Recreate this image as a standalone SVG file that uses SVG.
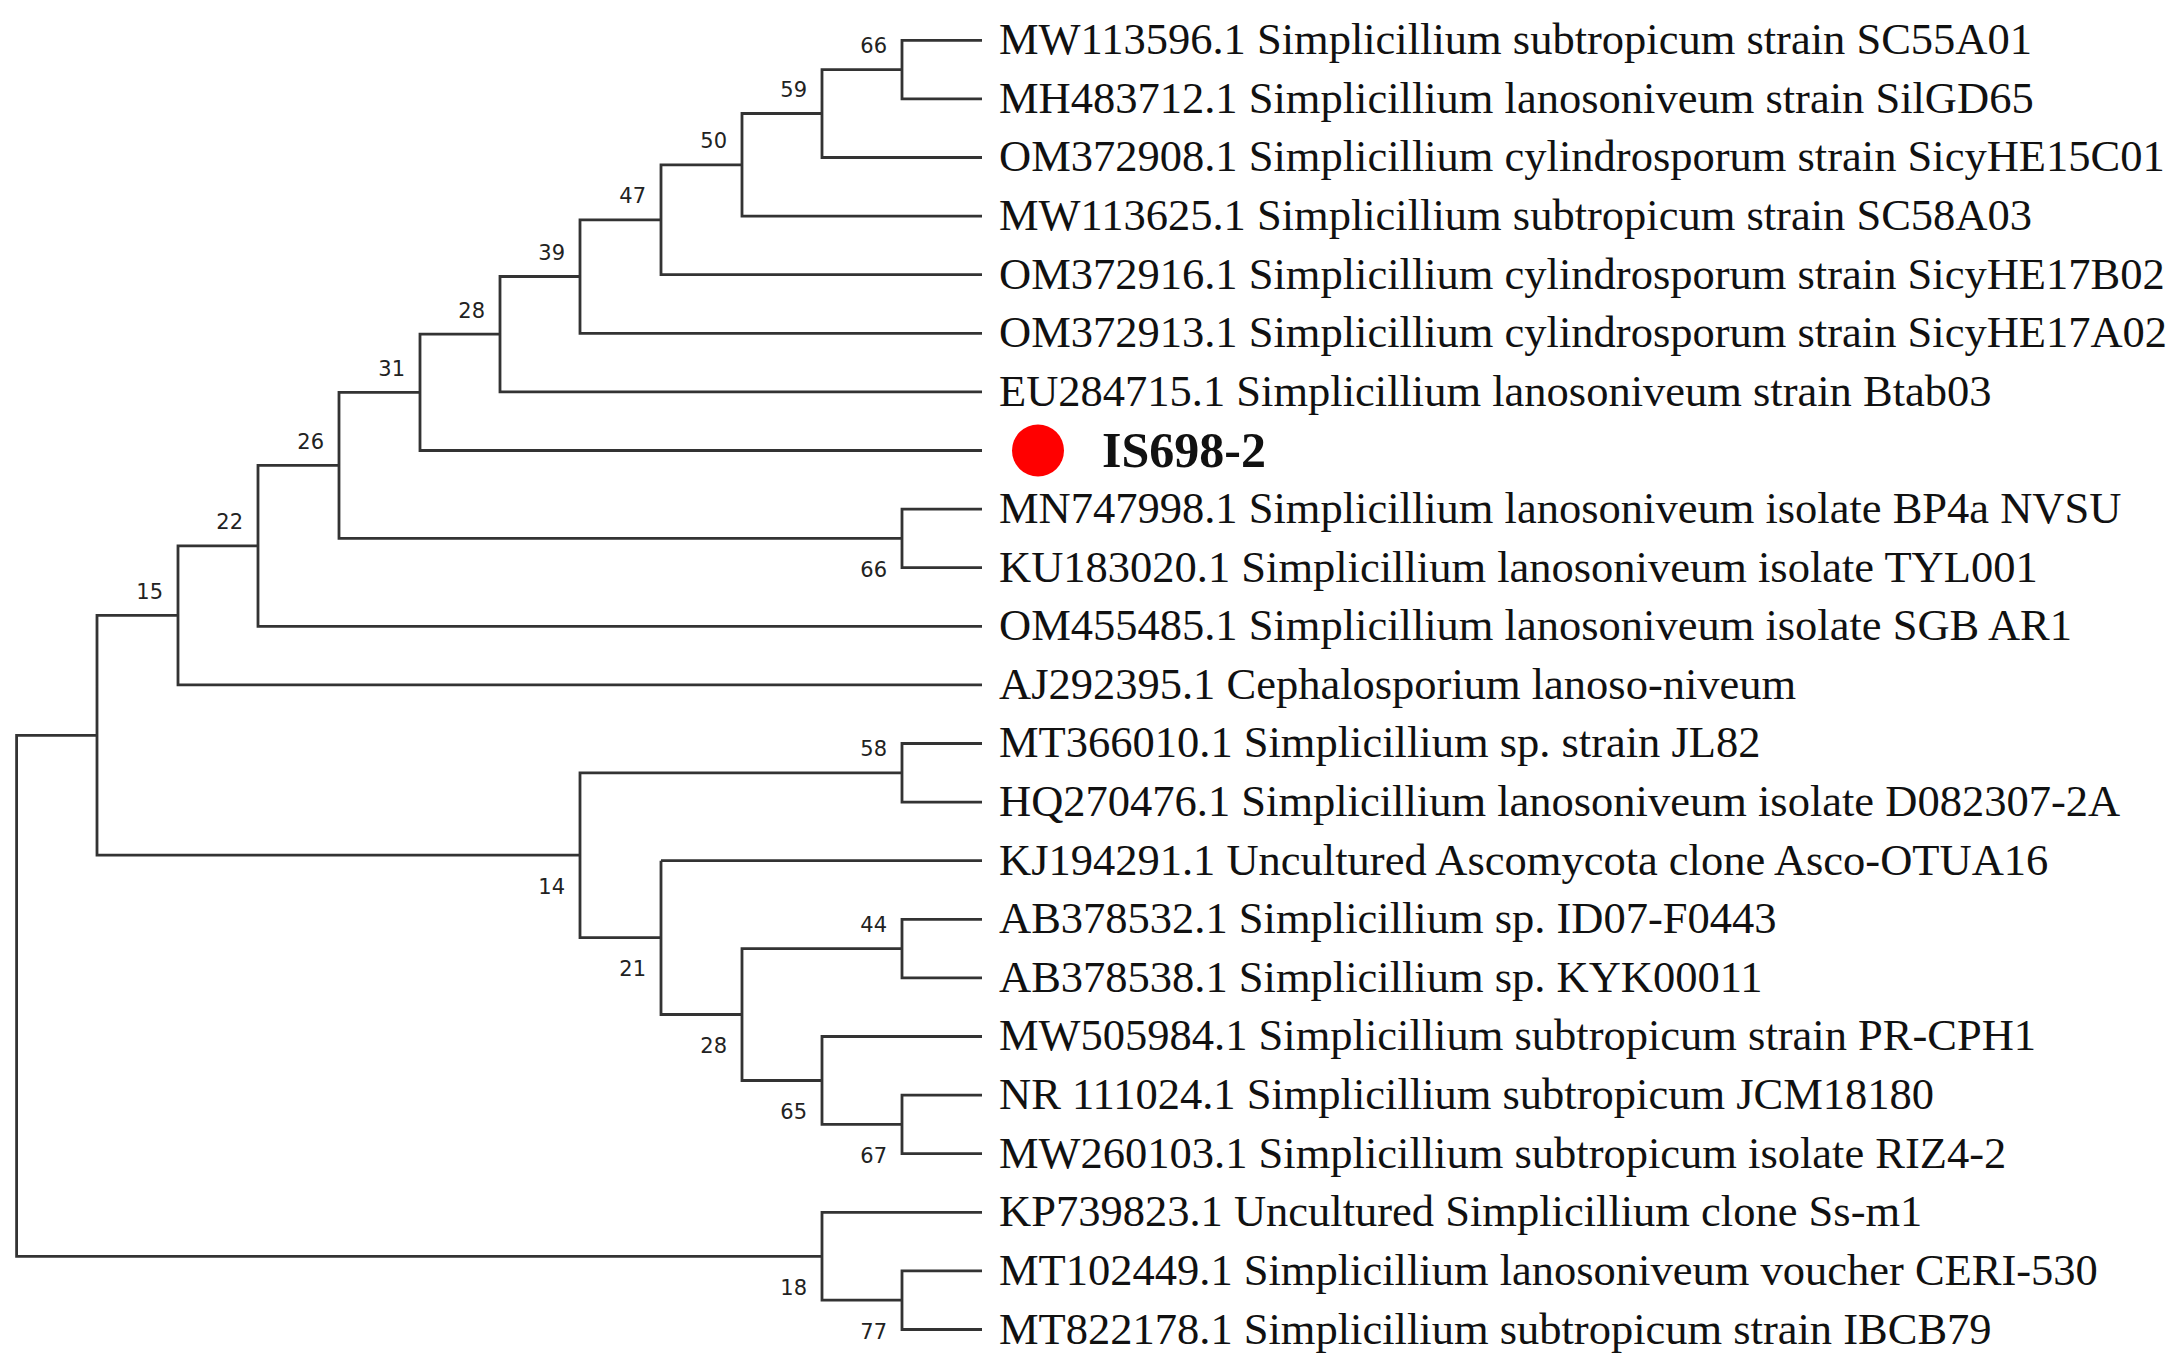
<svg xmlns="http://www.w3.org/2000/svg" width="2182" height="1367" viewBox="0 0 2182 1367">
<style>
.b{fill:none;stroke:#333;stroke-width:2.8}
.n{font-family:"DejaVu Sans",sans-serif;font-size:21px;fill:#222;text-anchor:end}
.l{font-family:"Liberation Serif",serif;font-size:44.5px;fill:#111}
</style>
<rect width="2182" height="1367" fill="#fff"/>
<g id="connectors" class="b">
<path d="M982 40.3H902V98.9H982M902 69.6H822V157.5H982M822 113.5H742V216.1H982M742 164.8H661V274.7H982M661 219.8H580V333.3H982M580 276.5H500V391.9H982M500 334.2H420V450.5H982"/>
<path d="M982 509.1H902V567.7H982M902 538.4H339V392.4H420M339 465.4H258V626.3H982M258 545.8H178V684.9H982M178 615.4H97V855.2H580"/>
<path d="M982 743.5H902V802.1H982M902 772.8H580V937.6H661M661 860.7H982M661 860.7V1014.5H742M982 919.3H902V977.9H982M902 948.6H742V1080.5H822M982 1036.5H822V1124.4H902M982 1095.1H902V1153.7H982"/>
<path d="M97 735.3H16.6V1256.3H822M982 1212.3H822V1300.2H902M982 1270.9H902V1329.5H982"/>
</g>
<g id="support">
<text class="n" x="887" y="53">66</text>
<text class="n" x="807" y="97">59</text>
<text class="n" x="727" y="148">50</text>
<text class="n" x="646" y="203">47</text>
<text class="n" x="565" y="260">39</text>
<text class="n" x="485" y="318">28</text>
<text class="n" x="405" y="376">31</text>
<text class="n" x="324" y="449">26</text>
<text class="n" x="243" y="529">22</text>
<text class="n" x="163" y="599">15</text>
<text class="n" x="887" y="577">66</text>
<text class="n" x="887" y="756">58</text>
<text class="n" x="565" y="894">14</text>
<text class="n" x="646" y="976">21</text>
<text class="n" x="887" y="932">44</text>
<text class="n" x="727" y="1053">28</text>
<text class="n" x="807" y="1119">65</text>
<text class="n" x="887" y="1163">67</text>
<text class="n" x="807" y="1295">18</text>
<text class="n" x="887" y="1339">77</text>
</g>
<g id="leaves">
<text class="l" x="999" y="54">MW113596.1 Simplicillium subtropicum strain SC55A01</text>
<text class="l" x="999" y="113">MH483712.1 Simplicillium lanosoniveum strain SilGD65</text>
<text class="l" x="999" y="171">OM372908.1 Simplicillium cylindrosporum strain SicyHE15C01</text>
<text class="l" x="999" y="230">MW113625.1 Simplicillium subtropicum strain SC58A03</text>
<text class="l" x="999" y="289">OM372916.1 Simplicillium cylindrosporum strain SicyHE17B02</text>
<text class="l" x="999" y="347">OM372913.1 Simplicillium cylindrosporum strain SicyHE17A02</text>
<text class="l" x="999" y="406">EU284715.1 Simplicillium lanosoniveum strain Btab03</text>
<g id="IS698-2"><circle cx="1038" cy="450.5" r="26" fill="#f00"/>
<text x="1102" y="467" style="font-family:'Liberation Serif',serif;font-size:50px;font-weight:bold;fill:#111">IS698-2</text></g>
<text class="l" x="999" y="523">MN747998.1 Simplicillium lanosoniveum isolate BP4a NVSU</text>
<text class="l" x="999" y="582">KU183020.1 Simplicillium lanosoniveum isolate TYL001</text>
<text class="l" x="999" y="640">OM455485.1 Simplicillium lanosoniveum isolate SGB AR1</text>
<text class="l" x="999" y="699">AJ292395.1 Cephalosporium lanoso-niveum</text>
<text class="l" x="999" y="757">MT366010.1 Simplicillium sp. strain JL82</text>
<text class="l" x="999" y="816">HQ270476.1 Simplicillium lanosoniveum isolate D082307-2A</text>
<text class="l" x="999" y="875">KJ194291.1 Uncultured Ascomycota clone Asco-OTUA16</text>
<text class="l" x="999" y="933">AB378532.1 Simplicillium sp. ID07-F0443</text>
<text class="l" x="999" y="992">AB378538.1 Simplicillium sp. KYK00011</text>
<text class="l" x="999" y="1050">MW505984.1 Simplicillium subtropicum strain PR-CPH1</text>
<text class="l" x="999" y="1109">NR 111024.1 Simplicillium subtropicum JCM18180</text>
<text class="l" x="999" y="1168">MW260103.1 Simplicillium subtropicum isolate RIZ4-2</text>
<text class="l" x="999" y="1226">KP739823.1 Uncultured Simplicillium clone Ss-m1</text>
<text class="l" x="999" y="1285">MT102449.1 Simplicillium lanosoniveum voucher CERI-530</text>
<text class="l" x="999" y="1344">MT822178.1 Simplicillium subtropicum strain IBCB79</text>
</g>
</svg>
